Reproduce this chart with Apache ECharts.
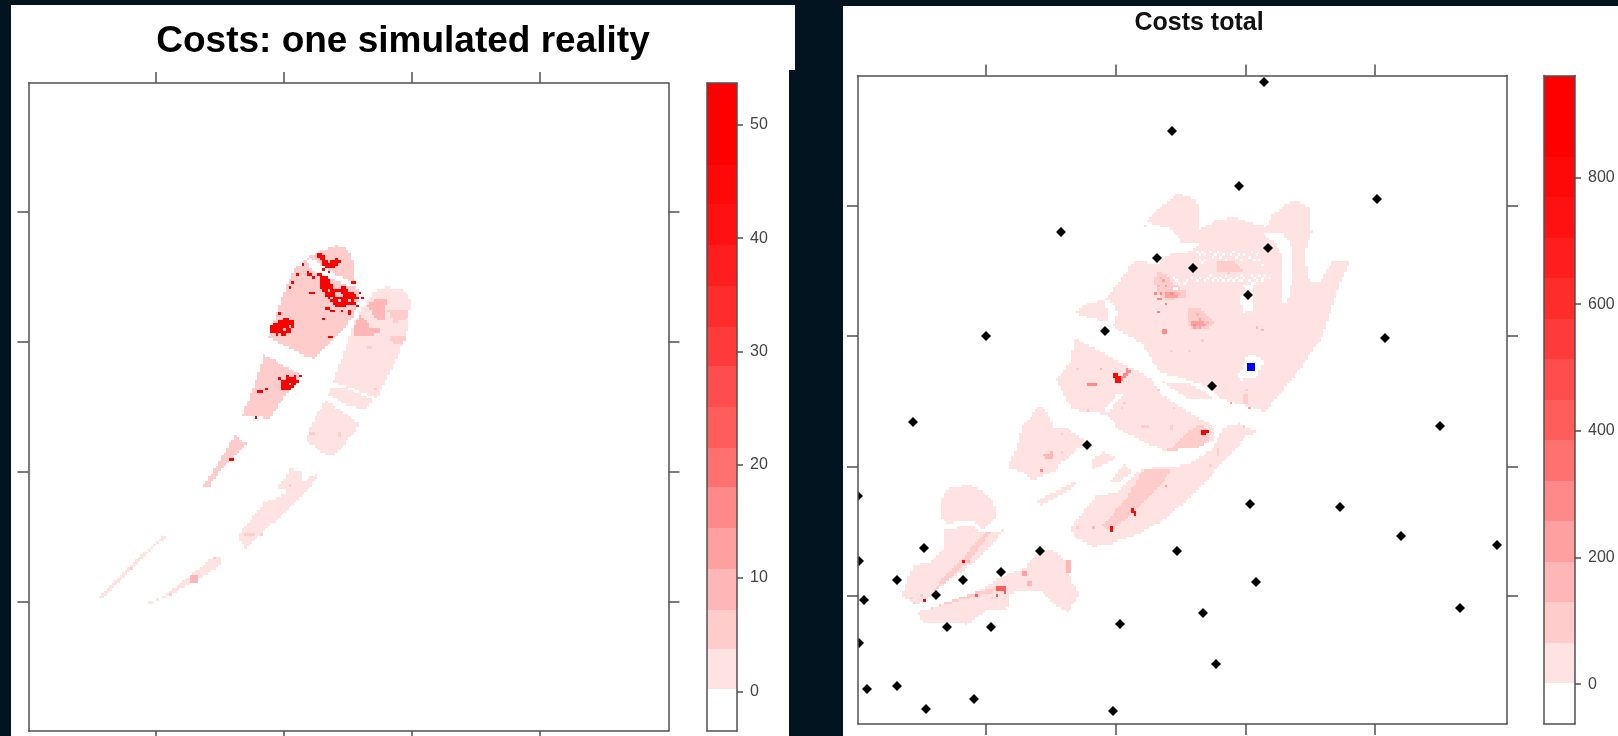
<!DOCTYPE html>
<html>
<head>
<meta charset="utf-8">
<style>
  html, body { margin: 0; padding: 0; background: #01141f; }
  #main { width: 1618px; height: 736px; }
</style>
<script src="https://cdn.jsdelivr.net/npm/echarts@6/dist/echarts.min.js"></script>
</head>
<body>
<div id="main"></div>
<script>
// Titles
const leftTitle = 'Costs: one simulated reality';
const rightTitle = 'Costs total';

// Colour key: shared bands, bottom to top
const bandColors = ['#ffffff', '#ffe3e3', '#ffcccc', '#ffb6b6', '#ffa0a0', '#ff8888', '#ff7070', '#ff5c5c',
  '#ff4c4c', '#ff3a3a', '#ff2c2c', '#ff1e1e', '#ff1111', '#ff0808', '#ff0000', '#ff0000'];
const leftBreaks = [-3.5, 0.2, 3.7, 7.2, 10.8, 14.4, 18, 21.5, 25.1, 28.7, 32.2, 35.8, 39.4, 43, 46.5, 50.1, 53.7];
const rightBreaks = [-63, 1, 65, 129, 193, 257, 321, 385, 449, 513, 577, 641, 705, 769, 833, 897, 961];
const leftKeyTicks = [0, 10, 20, 30, 40, 50];
const rightKeyTicks = [0, 200, 400, 600, 800];

// Map axes (the reference prints no labels, so the units are just grid units)
const leftXTicks = [127.5, 255.5, 383.5, 511.5];
const leftYTicks = [129.4, 259.4, 389.5, 519.5];
const rightXTicks = [127.5, 257.5, 387.5, 516.6];
const rightYTicks = [128.6, 257.5, 388, 518.6];

// Left map: [cost, outline], later areas paint over earlier ones
const leftAreas = [
  [2, [[338,429],[345,439],[358,444],[375,441],[382,431],[380,411],[377,394],[368,371],[358,351],[348,333],[305,349],[315,378],[325,408]]],
  [2, [[302,342],[315,344],[345,331],[338,323],[322,324],[300,336]]],
  [2, [[297,331],[330,308],[327,301],[311,281],[305,274],[292,279],[277,291],[283,305],[285,311]]],
  [2, [[262,263],[272,259],[273,248],[288,258],[289,253],[273,236],[252,214],[238,203],[222,188],[217,182],[210,194],[212,199],[236,229],[255,236],[260,243],[248,242],[255,251]]],
  [2, [[133,194],[137,194],[111,169],[85,144],[71,131],[69,132],[83,146],[110,173]]],
  [2, [[185,174],[193,173],[194,168],[182,159],[162,148],[142,136],[130,131],[120,127],[118,128],[132,133],[152,148],[175,166]]],
  [9, [[338,426],[350,433],[358,431],[356,411],[348,411]]],
  [9, [[325,404],[332,416],[342,404],[353,404],[350,398],[338,394],[326,394]]],
  [5, [[362,394],[375,396],[377,391],[372,386],[363,388]]],
  [5, [[338,386],[343,386],[343,382],[338,382]]],
  [5, [[358,421],[380,421],[378,411],[365,409]]],
  [5, [[215,197],[226,197],[226,195],[215,195]]],
  [5, [[280,299],[286,299],[286,296],[280,296]]],
  [5, [[310,299],[312,299],[312,294],[310,294]]],
  [9, [[161,156],[170,156],[170,148],[161,148]]],
  [5, [[286,478],[308,485],[320,481],[325,468],[326,451],[331,434],[326,419],[318,404],[298,384],[285,372],[265,381],[240,394],[251,428],[265,461],[275,469]]],
  [0, [[278,471],[283,473],[308,456],[328,448],[331,444],[322,444],[302,453],[285,459]]],
  [5, [[235,376],[274,356],[258,338],[242,313],[213,314],[228,351]]],
  [5, [[206,296],[218,287],[198,268],[180,244],[174,244],[187,264],[198,281]]],
  [50, [[243,406],[257,413],[267,408],[262,398],[252,394],[243,398]]],
  [50, [[292,458],[302,451],[305,441],[315,444],[330,434],[327,426],[308,424],[300,431],[292,443]]],
  [50, [[287,478],[292,478],[300,469],[310,473],[312,469],[305,461],[297,464]]],
  [50, [[275,462],[285,456],[288,453],[281,454]]],
  [50, [[323,451],[328,451],[328,447],[323,447]]],
  [50, [[252,351],[268,356],[270,349],[262,341],[253,341]]],
  [50, [[228,341],[235,342],[235,338],[228,338]]],
  [50, [[199,274],[205,274],[205,270],[199,270]]],
  [50, [[299,394],[304,394],[304,392],[299,392]]],
  [50, [[282,439],[287,439],[287,437],[282,437]]],
  [50, [[297,424],[302,424],[302,422],[297,422]]],
  [5, [[308,439],[313,439],[315,433],[308,433]]]
];
const leftSpots = [
  [275,467,50],[268,456,50],[265,448,50],[262,443,50],[252,418,50],[295,412,50],[303,420,50],[320,419,50],
  [322,417,50],[237,341,50],[227,313,50],[103,163,5],[142,137,5],[185,174,5],[232,196,5],[260,245,5],[348,341,5],
  [296,462,50],[300,459,50],[290,455,50],[293,449,50],[299,446,50],[296,440,50],[303,437,50],[318,439,50],
  [322,437,50],[331,437,50],[334,434,50],[312,421,50],[306,421,50],[328,424,50],[250,353,50],[258,356,50],
  [272,356,50],[266,352,50],[299,441,5],[304,433,5],[321,430,5],[325,430,5],[310,429,5],[256,401,5],[251,397,5],
  [262,405,5],[260,347,5]
];

// Right map: [cost, outline], later areas paint over earlier ones
const rightAreas = [
  [30, [[217,411],[229,421],[247,424],[277,464],[289,504],[319,531],[339,524],[341,494],[359,504],[375,507],[399,499],[409,497],[414,509],[435,524],[452,516],[454,491],[447,471],[450,444],[462,441],[475,464],[492,464],[489,454],[482,441],[475,421],[464,387],[439,351],[407,312],[359,327],[352,337],[329,344],[302,352],[294,364],[284,381],[264,392],[257,396],[249,402],[232,406]]],
  [0, [[277,464],[289,502],[315,494],[324,481],[342,481],[332,472],[309,469],[299,459]]],
  [0, [[404,491],[425,492],[434,477],[435,447],[429,422],[424,421],[425,444],[425,467],[417,481]]],
  [0, [[245,422],[252,424],[260,411],[255,396],[249,401],[250,411]]],
  [60, [[355,479],[392,482],[394,474],[372,469],[355,472]]],
  [75, [[359,462],[375,464],[385,452],[369,451],[359,452]]],
  [50, [[365,394],[385,397],[395,396],[385,387],[369,387]]],
  [50, [[427,416],[442,417],[444,409],[429,407]]],
  [50, [[409,444],[414,444],[414,421],[407,424]]],
  [60, [[257,397],[267,411],[269,404],[262,396]]],
  [100, [[299,454],[309,449],[315,441],[329,431],[325,426],[309,424],[299,429],[297,444]]],
  [220, [[307,431],[319,432],[319,426],[309,425]]],
  [100, [[330,417],[342,416],[357,402],[347,394],[330,397]]],
  [220, [[332,402],[345,404],[349,397],[335,396]]],
  [0, [[314,438],[319,438],[319,434],[314,434]]],
  [0, [[384,440],[395,441],[395,414],[385,411],[382,427],[389,431]]],
  [0, [[390,371],[407,364],[399,347],[382,344],[379,347],[385,357]]],
  [90, [[342,386],[347,386],[347,381],[342,381]]],
  [90, [[385,330],[389,330],[389,321],[385,321]]],
  [300, [[304,394],[310,394],[310,390],[304,390]]],
  [30, [[305,342],[329,341],[349,331],[355,326],[329,326]]],
  [30, [[215,387],[239,374],[272,357],[295,344],[302,331],[324,316],[339,307],[355,297],[355,284],[342,277],[309,273],[292,279],[262,294],[259,297],[252,307],[242,311],[215,314],[209,324],[198,344],[214,364]]],
  [0, [[260,331],[264,329],[250,311],[244,311]]],
  [70, [[309,273],[329,291],[339,299],[349,297],[350,284],[342,277]]],
  [900, [[342,293],[350,293],[350,291],[347,288],[345,288],[344,291]]],
  [300, [[262,347],[270,356],[274,352],[264,342]]],
  [800, [[255,351],[260,352],[263,341],[257,341]]],
  [300, [[230,341],[239,341],[239,337],[230,337]]],
  [100, [[313,298],[315,298],[315,293],[313,293]]],
  [70, [[284,299],[290,299],[290,296],[284,296]]],
  [30, [[213,197],[239,229],[259,231],[279,252],[290,256],[315,257],[335,262],[355,276],[365,297],[382,301],[399,292],[387,287],[375,271],[355,251],[329,224],[305,204],[282,191],[255,181],[235,177],[217,186]]],
  [70, [[244,197],[269,227],[285,254],[315,256],[302,237],[275,211],[255,194]]],
  [110, [[267,222],[290,247],[294,251],[272,227]]],
  [800, [[285,227],[287,227],[287,224],[285,224]]],
  [800, [[274,216],[279,213],[279,208],[274,210]]],
  [800, [[251,197],[254,197],[254,192],[251,192]]],
  [120, [[359,276],[361,276],[361,267],[359,267]]],
  [30, [[182,319],[192,307],[195,297],[209,296],[227,284],[219,271],[205,261],[195,252],[175,244],[165,251],[149,257],[157,271],[164,297]]],
  [0, [[199,257],[222,277],[224,275],[202,255]]],
  [150, [[184,270],[194,272],[194,266],[188,264]]],
  [30, [[233,264],[245,272],[259,267],[249,261],[235,255]]],
  [30, [[252,242],[267,261],[274,251],[259,241]]],
  [30, [[179,224],[199,234],[222,244],[207,231],[182,219]]],
  [30, [[82,224],[92,236],[112,239],[127,232],[139,216],[137,206],[125,195],[115,202],[102,204],[92,199],[84,207]]],
  [30, [[87,194],[114,199],[122,192],[147,194],[115,161],[82,137],[65,122],[57,119],[44,129],[55,159],[72,161],[85,174]]],
  [70, [[72,131],[102,164],[129,192],[135,194],[109,161],[82,137]]],
  [30, [[60,112],[115,129],[142,147],[167,156],[182,174],[195,174],[209,161],[214,141],[222,131],[210,112],[199,117],[182,134],[152,131],[152,116],[129,114],[110,100],[89,101],[64,102]]],
  [70, [[62,112],[115,131],[139,137],[147,134],[115,127],[69,114]]],
  [400, [[139,138],[147,138],[147,131],[139,133]]],
  [250, [[164,154],[170,154],[170,147],[164,147]]],
  [150, [[169,144],[175,144],[175,139],[169,139]]],
  [150, [[207,164],[212,164],[212,151],[207,151]]]
];
const rightSpots = [
  [300,424,300],[303,424,300],[307,420,300],[299,412,300],[403,394,150],[398,396,150],[374,322,200],[390,316,200],
  [388,333,70],[437,384,60],[314,372,70],[332,372,70],[242,354,150],[220,355,70],[229,313,100],[267,321,70],
  [299,333,70],[316,316,70],[264,315,70],[184,254,300],[203,289,100],[203,272,70],[309,238,200],[234,195,150],
  [220,196,70],[352,258,90],[385,297,100],[65,124,800],[105,163,800],[110,163,150],[52,127,70],[64,128,70],
  [55,122,70],[117,129,400],[133,127,120],[138,129,400],
  // mottling in the two darker patches
  [303,447,170],[306,442,220],[300,438,170],[309,437,220],[312,430,260],[304,431,260],[298,431,300],[318,429,170],
  [322,429,170],[338,410,170],[342,405,220],[336,400,260],[345,400,220],[350,401,170],[340,396,170],
  // speckled holes along the lower strip
  [315,447,0],[318,444,0],[321,441,0],[327,441,0],[330,444,0],[335,447,0],[338,444,0],[343,447,0],[349,447,0],
  [352,449,0],[357,447,0],[360,444,0],[363,447,0],[369,449,0],[372,447,0],[375,444,0],[378,447,0],[381,444,0],
  [384,449,0],[387,447,0],[390,444,0],[393,449,0],[396,447,0],[399,444,0],[402,449,0],[405,447,0],[408,449,0],
  [411,447,0],[354,442,0],[366,442,0],[346,442,0],[396,441,0],[384,442,0],[403,444,0],[370,444,0],
  // speckled holes along the upper strip
  [339,472,0],[342,470,0],[345,473,0],[348,469,0],[351,472,0],[354,466,0],[357,469,0],[360,472,0],[363,467,0],
  [366,470,0],[369,465,0],[372,468,0],[375,471,0],[378,466,0],[381,470,0],[384,465,0],[387,470,0],[390,467,0],
  [393,471,0],[396,465,0],[399,469,0],[402,463,0],[405,460,0],[342,464,0],[345,461,0],[348,464,0]
];

// Survey points on the right map
const blackPoints = [
  [406,642],[314,593],[381,538],[519,525],[203,492],[410,476],[299,466],[335,456],[390,429],[247,393],
  [128,388],[527,386],[354,338],[55,302],[582,298],[229,279],[0,228],[392,220],[482,217],[543,188],
  [66,176],[182,173],[319,173],[1,163],[39,144],[105,144],[143,152],[78,129],[6,124],[89,97],[133,97],
  [262,100],[1,81],[639,179],[398,142],[345,111],[602,116],[358,60],[9,35],[39,38],[116,25],[68,15],[255,13]
];
const bluePoint = [[393,357]];

const CELL = 2.6;

function inside(pt, poly) {
  var hit = false;
  for (var i = 0, j = poly.length - 1; i < poly.length; j = i++) {
    if ((poly[i][1] > pt[1]) !== (poly[j][1] > pt[1]) &&
        pt[0] < (poly[j][0] - poly[i][0]) * (pt[1] - poly[i][1]) / (poly[j][1] - poly[i][1]) + poly[i][0]) {
      hit = !hit;
    }
  }
  return hit;
}

// turn the outlines into map cells
function buildCells(areas, spots) {
  var cells = new Map();
  areas.forEach(function(area) {
    var xs = area[1].map(function(p) { return p[0]; });
    var ys = area[1].map(function(p) { return p[1]; });
    var x0 = Math.floor(Math.min.apply(null, xs) / CELL), x1 = Math.ceil(Math.max.apply(null, xs) / CELL);
    var y0 = Math.floor(Math.min.apply(null, ys) / CELL), y1 = Math.ceil(Math.max.apply(null, ys) / CELL);
    for (var i = x0; i <= x1; i++) {
      for (var j = y0; j <= y1; j++) {
        if (inside([(i + 0.5) * CELL, (j + 0.5) * CELL], area[1])) {
          cells.set(i + '_' + j, [i * CELL, j * CELL, area[0]]);
        }
      }
    }
  });
  spots.forEach(function(s) {
    var i = Math.floor(s[0] / CELL), j = Math.floor(s[1] / CELL);
    cells.set(i + '_' + j, [i * CELL, j * CELL, s[2]]);
  });
  return Array.from(cells.values()).filter(function(c) { return c[2] > 0; });
}

function bandColor(value, breaks) {
  for (var i = 0; i < bandColors.length; i++) {
    if (value < breaks[i + 1]) return bandColors[i];
  }
  return bandColors[bandColors.length - 1];
}

function mapSeries(cells, breaks, axisIndex) {
  return {
    type: 'custom',
    xAxisIndex: axisIndex,
    yAxisIndex: axisIndex,
    coordinateSystem: 'cartesian2d',
    clip: true,
    progressive: 0,
    data: cells,
    renderItem: function(params, api) {
      var a = api.coord([api.value(0), api.value(1)]);
      var b = api.coord([api.value(0) + CELL, api.value(1) + CELL]);
      var x = Math.round(a[0]), y = Math.round(b[1]);
      return {
        type: 'rect',
        shape: { x: x, y: y, width: Math.round(b[0]) - x, height: Math.round(a[1]) - y },
        style: { fill: bandColor(api.value(2), breaks) }
      };
    }
  };
}

function keySeries(breaks, axisIndex) {
  var bands = [];
  for (var i = 0; i < bandColors.length; i++) {
    bands.push([breaks[i], breaks[i + 1], i]);
  }
  return {
    type: 'custom',
    xAxisIndex: axisIndex,
    yAxisIndex: axisIndex,
    clip: true,
    data: bands,
    renderItem: function(params, api) {
      var a = api.coord([0, api.value(0)]);
      var b = api.coord([1, api.value(1)]);
      return {
        type: 'rect',
        shape: { x: a[0], y: Math.round(b[1]), width: b[0] - a[0], height: Math.round(a[1]) - Math.round(b[1]) },
        style: { fill: bandColors[api.value(2)] }
      };
    }
  };
}

// points are clipped at the frame, so those on the edge show as half a diamond
function pointSeries(points, color, isSquare, radius) {
  return {
    type: 'custom',
    xAxisIndex: 1,
    yAxisIndex: 1,
    data: points,
    z: 5,
    renderItem: function(params, api) {
      var p = api.coord([api.value(0), api.value(1)]);
      var area = params.coordSys;
      var r = radius;
      var corners = isSquare
        ? [[p[0] - r, p[1] - r], [p[0] + r, p[1] - r], [p[0] + r, p[1] + r], [p[0] - r, p[1] + r]]
        : [[p[0], p[1] - r], [p[0] + r, p[1]], [p[0], p[1] + r], [p[0] - r, p[1]]];
      return {
        type: 'polygon',
        shape: { points: corners },
        style: { fill: color },
        clipPath: { type: 'rect', shape: { x: area.x, y: area.y, width: area.width, height: area.height } }
      };
    }
  };
}

var lineStyle = { color: '#505050', width: 1.5 };

function plainAxis(position, gridIndex, max, ticks) {
  return {
    type: 'value', gridIndex: gridIndex, position: position, min: 0, max: max, z: 6,
    splitLine: { show: false },
    axisLine: { show: true, onZero: false, lineStyle: lineStyle },
    axisTick: { show: true, length: 11, customValues: ticks, lineStyle: lineStyle },
    axisLabel: { show: false }
  };
}

// frame side of a colour key, no ticks
function keyFrame(position, gridIndex, min, max) {
  return {
    type: 'value', gridIndex: gridIndex, position: position, min: min, max: max, z: 6,
    splitLine: { show: false },
    axisLine: { show: true, onZero: false, lineStyle: lineStyle },
    axisTick: { show: false },
    axisLabel: { show: false }
  };
}

function keyYAxis(gridIndex, breaks, ticks) {
  return {
    type: 'value', gridIndex: gridIndex, position: 'right', z: 6,
    min: breaks[0], max: breaks[breaks.length - 1],
    splitLine: { show: false },
    axisLine: { show: true, onZero: false, lineStyle: lineStyle },
    axisTick: { show: true, length: 6, customValues: ticks, lineStyle: lineStyle },
    axisLabel: { show: true, customValues: ticks, margin: 13, color: '#444444', fontSize: 16, fontFamily: 'Liberation Sans' }
  };
}

var myChart = echarts.init(document.getElementById('main'), null, { renderer: 'canvas' });

var option = {
  animation: false,
  backgroundColor: '#01141f',
  graphic: [
    { type: 'rect', z: -10, shape: { x: 11, y: 5, width: 784, height: 65 }, style: { fill: '#fff' } },
    { type: 'rect', z: -10, shape: { x: 11, y: 70, width: 778, height: 666 }, style: { fill: '#fff' } },
    { type: 'rect', z: -10, shape: { x: 843, y: 6, width: 775, height: 730 }, style: { fill: '#fff' } }
  ],
  title: [
    { text: leftTitle, left: 398, top: 18, textAlign: 'center', textStyle: { fontFamily: 'Liberation Sans', fontSize: 37, fontWeight: 'bold', color: '#000' } },
    { text: rightTitle, left: 1194, top: 6, textAlign: 'center', textStyle: { fontFamily: 'Liberation Sans', fontSize: 25, fontWeight: 'bold', color: '#111' } }
  ],
  grid: [
    { left: 28.5, top: 83, width: 640, height: 648 },
    { left: 858, top: 75.5, width: 649, height: 648.5 },
    { left: 707, top: 83, width: 30, height: 648 },
    { left: 1544, top: 75.5, width: 31, height: 648.5 }
  ],
  xAxis: [
    plainAxis('bottom', 0, 640, leftXTicks),
    plainAxis('bottom', 1, 649, rightXTicks),
    keyFrame('bottom', 2, 0, 1),
    keyFrame('bottom', 3, 0, 1),
    plainAxis('top', 0, 640, leftXTicks),
    plainAxis('top', 1, 649, rightXTicks),
    keyFrame('top', 2, 0, 1),
    keyFrame('top', 3, 0, 1)
  ],
  yAxis: [
    plainAxis('left', 0, 648, leftYTicks),
    plainAxis('left', 1, 648.5, rightYTicks),
    keyYAxis(2, leftBreaks, leftKeyTicks),
    keyYAxis(3, rightBreaks, rightKeyTicks),
    plainAxis('right', 0, 648, leftYTicks),
    plainAxis('right', 1, 648.5, rightYTicks),
    keyFrame('left', 2, leftBreaks[0], leftBreaks[16]),
    keyFrame('left', 3, rightBreaks[0], rightBreaks[16])
  ],
  series: [
    mapSeries(buildCells(leftAreas, leftSpots), leftBreaks, 0),
    mapSeries(buildCells(rightAreas, rightSpots), rightBreaks, 1),
    keySeries(leftBreaks, 2),
    keySeries(rightBreaks, 3),
    pointSeries(blackPoints, '#000000', false, 5),
    pointSeries(bluePoint, '#0000ff', true, 4)
  ]
};

myChart.setOption(option);
</script>
</body>
</html>
